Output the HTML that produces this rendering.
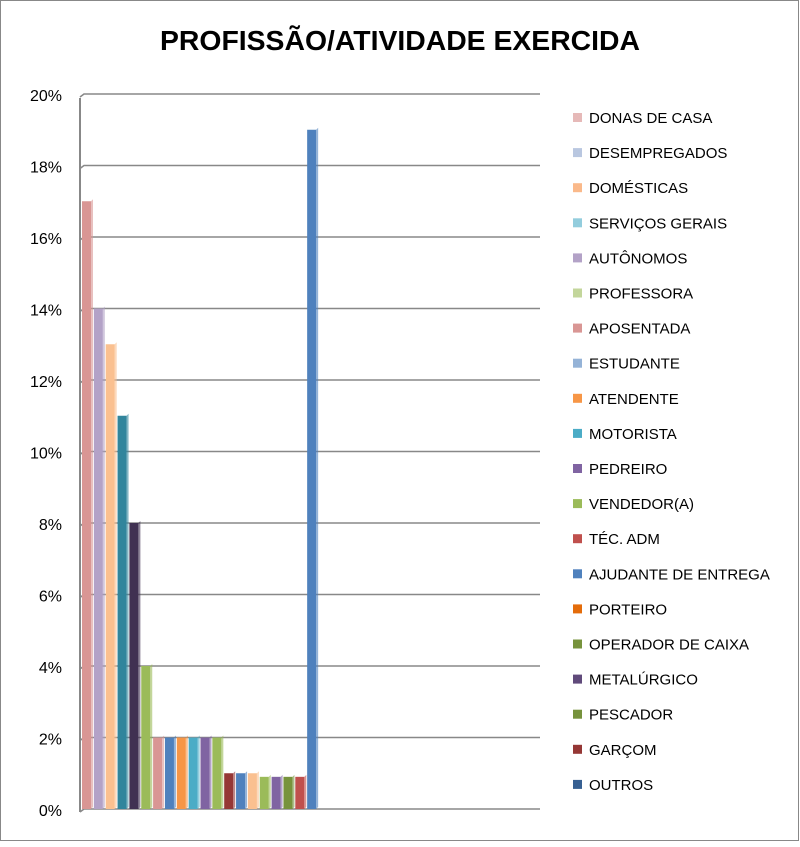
<!DOCTYPE html>
<html><head><meta charset="utf-8"><style>
body{margin:0;background:#fff;}
#c{position:relative;width:800px;height:842px;font-family:"Liberation Sans",sans-serif;}
</style></head><body>
<div id="c">
<svg id="s" width="800" height="842">
<rect x="0.5" y="0.5" width="798" height="840" fill="#fff" stroke="#888"/>
<text x="400" y="50" text-anchor="middle" font-size="28" font-weight="bold" fill="#000" textLength="480" lengthAdjust="spacingAndGlyphs">PROFISSÃO/ATIVIDADE EXERCIDA</text>
</svg>
</div>
<script>
const categories=["DONAS DE CASA","DESEMPREGADOS","DOMÉSTICAS","SERVIÇOS GERAIS","AUTÔNOMOS","PROFESSORA","APOSENTADA","ESTUDANTE","ATENDENTE","MOTORISTA","PEDREIRO","VENDEDOR(A)","TÉC. ADM","AJUDANTE DE ENTREGA","PORTEIRO","OPERADOR DE CAIXA","METALÚRGICO","PESCADOR","GARÇOM","OUTROS"];
const values=[17,14,13,11,8,4,2,2,2,2,2,2,1,1,1,0.9,0.9,0.9,0.9,19];
const barColors=["#D99694","#B3A2C7","#FAC090","#31859C","#403152","#9BBB59","#D99694","#4F81BD","#F79646","#4BACC6","#8064A2","#9BBB59","#953735","#4F81BD","#FAC090","#9BBB59","#8064A2","#77933C","#C0504D","#4F81BD"];
const legendColors=["#E6B9B8","#B9C7E0","#FAB98A","#93CDDD","#B3A2C7","#C3D69B","#D99694","#95B3D7","#F79646","#4BACC6","#8064A2","#9BBB59","#C0504D","#4F81BD","#E46C0A","#77933C","#604A7B","#76923C","#953735","#376092"];
const ticks=[0,2,4,6,8,10,12,14,16,18,20];
const NS="http://www.w3.org/2000/svg";
const s=document.getElementById('s');
const y0=809,yTop=94,ymax=20;
function yS(v){return y0-(v/ymax)*(y0-yTop);}
function xS(i){return 82+i*11.85;}
function mk(t,a){const e=document.createElementNS(NS,t);for(const k in a)e.setAttribute(k,a[k]);s.appendChild(e);return e;}
mk('line',{x1:80,y1:yTop+4,x2:80,y2:y0+3,stroke:'#888','stroke-width':2});
ticks.forEach(t=>{
  const y=yS(t);
  const g=mk('path',{d:`M80 ${y+3} L84 ${y} L540 ${y}`,fill:'none',stroke:'#888','stroke-width':1.6});
  
  
  const l=mk('text',{x:62,y:y+7,'text-anchor':'end','font-size':16,fill:'#000'});
  l.textContent=t+'%';
  
  
});
values.forEach((v,i)=>{
  const x=xS(i),y=yS(v),w=9;
  const r=mk('rect',{x:x,y:y,width:w,height:y0-y,fill:barColors[i]});
  
  
  const side=mk('path',{d:`M${x+w} ${y} L${x+w+2} ${y-2} L${x+w+2} ${y0-2} L${x+w} ${y0} Z`,fill:barColors[i],opacity:0.6});
  
  
});
categories.forEach((c,i)=>{
  const y=118+i*35.1;
  const r=mk('rect',{x:573,y:y-5,width:9,height:9,fill:legendColors[i]});
  
  
  const t=mk('text',{x:589,y:y+5,'font-size':15,fill:'#000'});
  t.textContent=c;
  
  
});
</script>
</body></html>
